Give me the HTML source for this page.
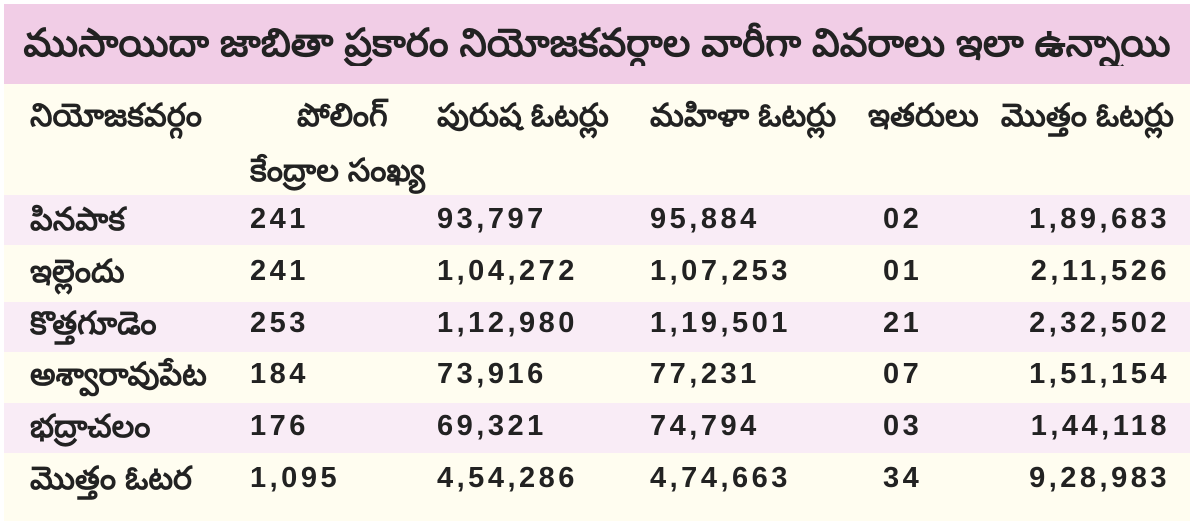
<!DOCTYPE html>
<html><head><meta charset="utf-8"><style>
body{margin:0;width:1196px;height:526px;background:#fff;position:relative;overflow:hidden;font-family:"Liberation Sans",sans-serif;color:#222}
div{position:absolute}
.band{left:4px;width:1186px}
.t{font-weight:bold;font-size:29px;letter-spacing:3.5px;white-space:nowrap;line-height:30px}
.h{font-size:32px;white-space:nowrap;line-height:30px;font-weight:bold}
</style></head><body>
<div class="band" style="top:4px;height:80px;background:#f1cde6"></div>
<div class="band" style="top:84px;height:437px;background:#fffdf0"></div>
<div class="band" style="top:195px;height:50px;background:#f9ecf6"></div>
<div class="band" style="top:302px;height:50px;background:#f9ecf6"></div>
<div class="band" style="top:403px;height:50px;background:#f9ecf6"></div>
<div style="left:4px;width:1186px;top:22px;text-align:center;font-size:39px;font-weight:bold;line-height:44px;white-space:nowrap;overflow:hidden">ముసాయిదా జాబితా ప్రకారం నియోజకవర్గాల వారీగా వివరాలు ఇలా ఉన్నాయి</div>
<script>
const cols=[30,250,437,650,868,1008];
const headers=["నియోజకవర్గం","పోలింగ్","పురుష ఓటర్లు","మహిళా ఓటర్లు","ఇతరులు","మొత్తం ఓటర్లు"];
const rows=[
["పినపాక","241","93,797","95,884","02","1,89,683"],
["ఇల్లెందు","241","1,04,272","1,07,253","01","2,11,526"],
["కొత్తగూడెం","253","1,12,980","1,19,501","21","2,32,502"],
["అశ్వారావుపేట","184","73,916","77,231","07","1,51,154"],
["భద్రాచలం","176","69,321","74,794","03","1,44,118"],
["మొత్తం ఓటర","1,095","4,54,286","4,74,663","34","9,28,983"]];
const rowTops=[204,256,308,359,411,463];
const numX=[30,250,437,650,883,1008];
const b=document.body;
headers.forEach((h,i)=>{const d=document.createElement('div');


d.className='h';d.style.left=(i==1?297:cols[i])+'px';d.style.top='100px';d.textContent=h;
if(i==5){d.style.left='auto';d.style.right='22px';}
b.appendChild(d);});
const sub=document.createElement('div');


sub.className='h';sub.style.left='250px';sub.style.top='155px';sub.textContent='కేంద్రాల సంఖ్య';b.appendChild(sub);
rows.forEach((r,ri)=>r.forEach((v,ci)=>{const d=document.createElement('div');


d.className=ci==0?'h':'t';d.style.left=numX[ci]+'px';d.style.top=rowTops[ri]+'px';
if(ci==5){d.style.left='auto';d.style.right='26px';d.style.textAlign='right';}
d.textContent=v;b.appendChild(d);}));
</script>
</body></html>
